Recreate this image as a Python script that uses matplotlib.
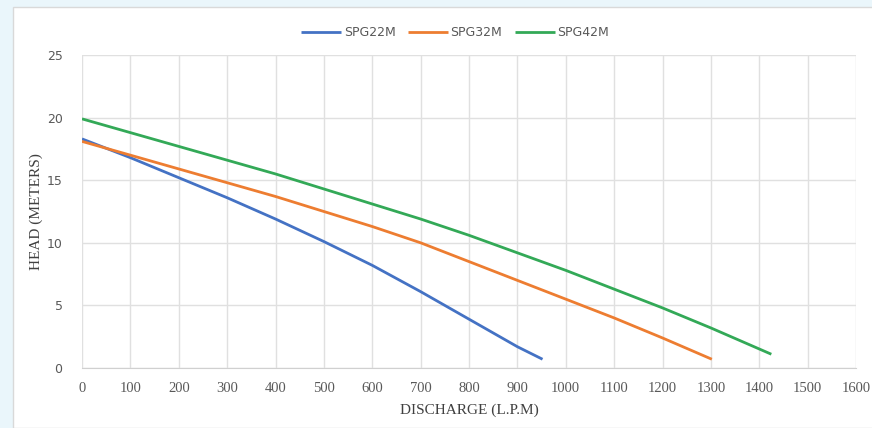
import matplotlib.pyplot as plt
from matplotlib.patches import Rectangle

# pump curves
x_22 = [0, 100, 200, 300, 400, 500, 600, 700, 800, 900, 952]
y_22 = [18.3, 16.8, 15.2, 13.6, 11.9, 10.1, 8.2, 6.1, 3.9, 1.7, 0.7]

x_32 = [0, 100, 200, 300, 400, 500, 600, 700, 800, 900, 1000, 1100, 1200, 1302]
y_32 = [18.1, 17.0, 15.9, 14.8, 13.7, 12.5, 11.3, 10.0, 8.5, 7.0, 5.5, 4.0, 2.4, 0.7]

x_42 = [0, 100, 200, 300, 400, 500, 600, 700, 800, 900, 1000, 1100, 1200, 1300, 1425]
y_42 = [19.9, 18.8, 17.7, 16.6, 15.5, 14.3, 13.1, 11.9, 10.6, 9.2, 7.8, 6.3, 4.8, 3.2, 1.1]

series = [
    ("SPG22M", x_22, y_22, "#4472c4"),
    ("SPG32M", x_32, y_32, "#ed7d31"),
    ("SPG42M", x_42, y_42, "#33a957"),
]

fig = plt.figure(figsize=(8.72, 4.28), dpi=100)
fig.patch.set_facecolor("#eaf6fb")
frame = Rectangle((13 / 872, 0), 1, 1 - 7 / 428, transform=fig.transFigure,
                  facecolor="white", edgecolor="#d9d9d9", linewidth=1, zorder=-10)
fig.add_artist(frame)

ax = fig.add_axes([82 / 872, 1 - 368 / 428, (856 - 82) / 872, (368 - 55) / 428])
ax.set_facecolor("white")

for name, xs, ys, color in series:
    ax.plot(xs, ys, color=color, linewidth=2.0, label=name, solid_capstyle="butt")

ax.set_xlim(0, 1600)
ax.set_ylim(0, 25)
ax.set_xticks(range(0, 1601, 100))
ax.set_yticks(range(0, 26, 5))
ax.grid(True, color="#e0e0e0", linewidth=1)
ax.set_axisbelow(True)
for side in ["top", "right", "left"]:
    ax.spines[side].set_visible(False)
ax.spines["bottom"].set_color("#d0d0d0")
ax.tick_params(length=0, colors="#595959")
ax.tick_params(axis="x", pad=10)
ax.tick_params(axis="y", pad=14)
for lbl in ax.get_xticklabels():
    lbl.set_fontfamily("Liberation Serif")
    lbl.set_fontsize(10.5)
for lbl in ax.get_yticklabels():
    lbl.set_fontfamily("DejaVu Sans")
    lbl.set_fontsize(9)

ax.set_xlabel("DISCHARGE (L.P.M)", fontfamily="Liberation Serif", fontsize=11,
              color="#404040", labelpad=6)
ax.set_ylabel("HEAD (METERS)", fontfamily="Liberation Serif", fontsize=11,
              color="#404040", labelpad=3)

leg = fig.legend(loc="center", bbox_to_anchor=(455 / 872, 1 - 33 / 428), ncol=3,
                 frameon=False, fontsize=9, handlelength=3.2, columnspacing=1.0,
                 handletextpad=0.2)
for t in leg.get_texts():
    t.set_color("#595959")

fig.savefig("out.png", dpi=100, facecolor=fig.get_facecolor())
